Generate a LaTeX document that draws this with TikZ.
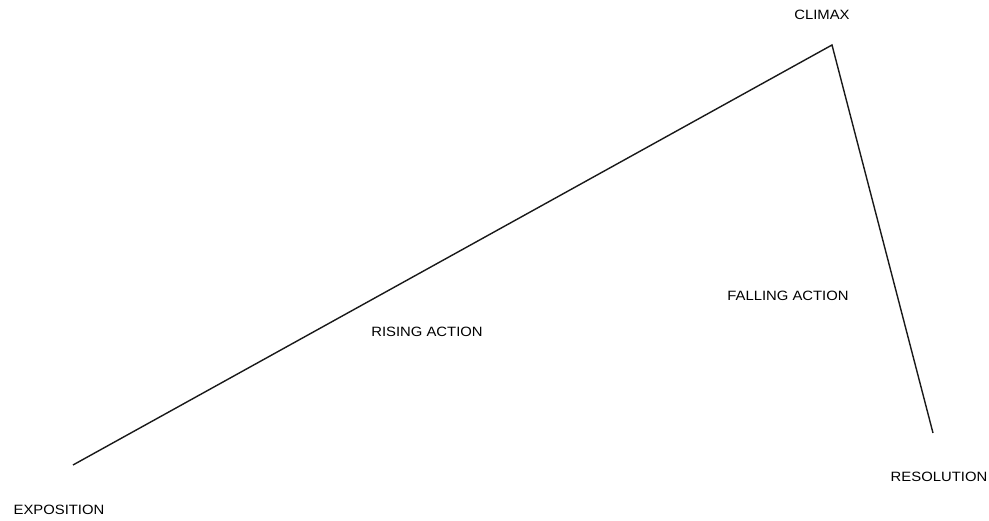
\documentclass[tikz,border=0pt]{standalone}
\usepackage{fontspec}
\setmainfont{Liberation Sans}
\begin{document}
\begin{tikzpicture}[x=1pt,y=1pt,
  lbl/.style={font=\fontsize{13.5}{15}\selectfont, text=black, inner sep=0pt, xscale=1.1},
  plotline/.style={draw=black!90, line width=1.4pt, line join=miter}]
\useasboundingbox (0,0) rectangle (989,521);
\coordinate (expo) at (73,56);
\coordinate (peak) at (832,476);
\coordinate (reso) at (933,88);
\draw[plotline] (expo) -- (peak) -- (reso);
\node[lbl] (climax) at (822,506) {CLIMAX};
\node[lbl] (falling) at (788,225) {FALLING ACTION};
\node[lbl] (rising) at (427,189) {RISING ACTION};
\node[lbl] (exposition) at (59,11) {EXPOSITION};
\node[lbl] (resolution) at (939,44) {RESOLUTION};
\end{tikzpicture}
\end{document}
